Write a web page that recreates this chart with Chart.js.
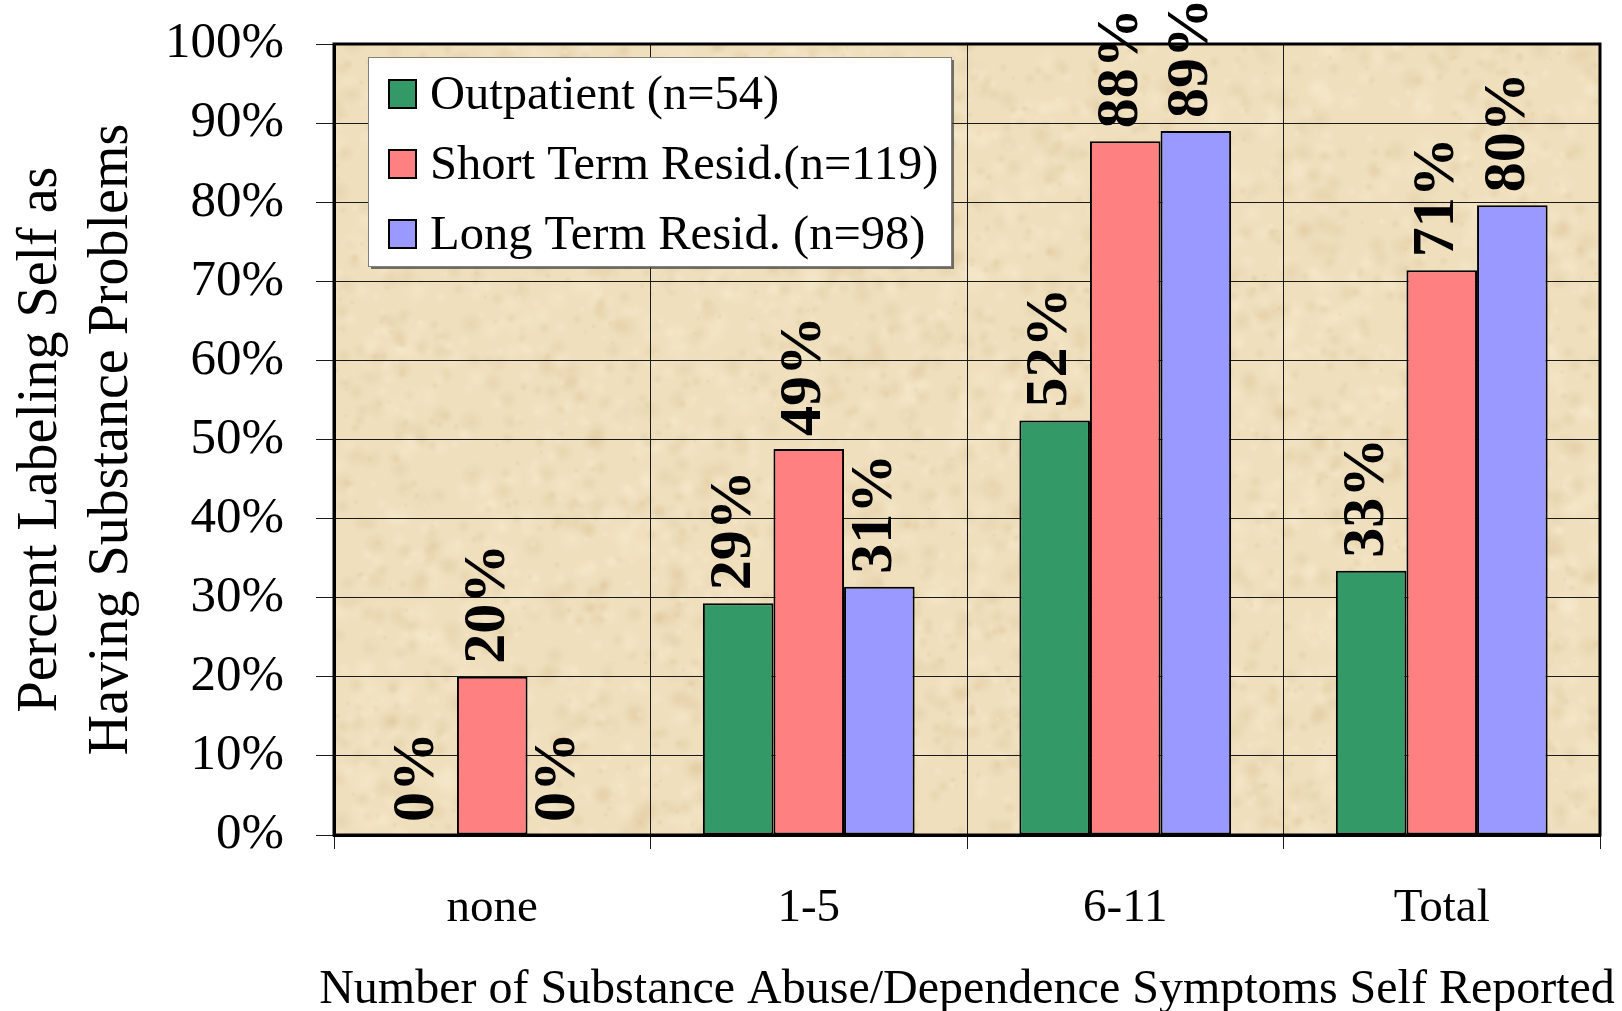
<!DOCTYPE html>
<html>
<head>
<meta charset="utf-8">
<script src="https://cdn.jsdelivr.net/npm/chart.js@4.4.1/dist/chart.umd.min.js"></script>
<style>
html, body { margin: 0; padding: 0; background: #fff; }
#wrap { width: 1622px; height: 1011px; }
</style>
</head>
<body>
<div id="wrap"><canvas id="grafico" width="1622" height="1011"></canvas></div>
<script>
const categorias = ['none', '1-5', '6-11', 'Total'];
const nomesSeries = ['Outpatient (n=54)', 'Short Term Resid.(n=119)', 'Long Term Resid. (n=98)'];
const outpatient = [0, 29.3, 52.4, 33.4];
const shortTerm = [20.0, 48.8, 87.7, 71.4];
const longTerm = [0, 31.4, 89.0, 79.6];
const cores = ['#339966', '#ff8080', '#9999ff'];
const tituloY = ['Percent Labeling Self as', 'Having Substance Problems'];
const tituloX = 'Number of Substance Abuse/Dependence Symptoms Self Reported';

const FONTE = "'Liberation Serif', 'Times New Roman', serif";
let textura = null;

// fundo tipo pergaminho (so decoracao)
function criarTextura(w, h) {
    const c = document.createElement('canvas');
    c.width = w; c.height = h;
    const g = c.getContext('2d');
    g.fillStyle = '#efdfbd';
    g.fillRect(0, 0, w, h);
    let s = 12345;
    const prox = () => (s = (s * 16807) % 2147483647) / 2147483647;
    for (let i = 0; i < 4500; i++) {
        const x = prox() * w, y = prox() * h, r = 2 + prox() * 12;
        const escuro = prox() < 0.5;
        const cor = escuro ? '205,172,120' : '250,240,214';
        const grad = g.createRadialGradient(x, y, 0, x, y, r);
        grad.addColorStop(0, `rgba(${cor},${escuro ? 0.18 : 0.3})`);
        grad.addColorStop(1, `rgba(${cor},0)`);
        g.fillStyle = grad;
        g.fillRect(x - r, y - r, r * 2, r * 2);
    }
    return c;
}

const pluginFundo = {
    id: 'fundo',
    beforeDraw(chart) {
        const a = chart.chartArea, ctx = chart.ctx;
        if (!textura) textura = criarTextura(Math.ceil(a.width), Math.ceil(a.height));
        ctx.drawImage(textura, a.left, a.top);
    }
};

const pluginRotulos = {
    id: 'rotulos',
    afterDatasetsDraw(chart) {
        const ctx = chart.ctx;
        ctx.save();
        ctx.font = `bold 60px ${FONTE}`;
        ctx.fillStyle = '#000';
        ctx.textAlign = 'left';
        ctx.textBaseline = 'middle';
        chart.data.datasets.forEach((ds, i) => {
            chart.getDatasetMeta(i).data.forEach((bar, j) => {
                ctx.save();
                ctx.translate(bar.x - 4, bar.y - 13);
                ctx.rotate(-Math.PI / 2);
                ctx.fillText(Math.round(ds.data[j]) + '%', 0, 0);
                ctx.restore();
            });
        });
        ctx.restore();
    }
};

const pluginMoldura = {
    id: 'moldura',
    afterDraw(chart) {
        const a = chart.chartArea, ctx = chart.ctx;
        ctx.save();
        ctx.strokeStyle = '#000';
        ctx.lineWidth = 3;
        ctx.strokeRect(a.left, a.top, a.width, a.height);

        // titulo do eixo x sem limite de largura (passa um pouco da area)
        ctx.font = `48px ${FONTE}`;
        ctx.fillStyle = '#000';
        ctx.textAlign = 'center';
        ctx.textBaseline = 'middle';
        ctx.fillText(tituloX, (a.left + a.right) / 2, chart.height - 21);

        // legenda
        const x = a.left + 34, y = a.top + 13, w = 583, h = 209;
        ctx.fillStyle = 'rgba(70,70,70,0.75)';
        ctx.fillRect(x + 3, y + 3, w, h);
        ctx.fillStyle = '#fff';
        ctx.fillRect(x, y, w, h);
        ctx.strokeStyle = '#808080';
        ctx.lineWidth = 1;
        ctx.strokeRect(x + 0.5, y + 0.5, w, h);
        ctx.font = `48.5px ${FONTE}`;
        ctx.textAlign = 'left';
        chart.data.datasets.forEach((ds, i) => {
            const cy = y + 37 + i * 70;
            ctx.fillStyle = ds.backgroundColor;
            ctx.fillRect(x + 21, cy - 14, 27, 28);
            ctx.strokeStyle = '#000';
            ctx.lineWidth = 2;
            ctx.strokeRect(x + 21, cy - 14, 27, 28);
            ctx.fillStyle = '#000';
            ctx.fillText(ds.label, x + 62, cy + 2);
        });
        ctx.restore();
    }
};

new Chart(document.getElementById('grafico'), {
    type: 'bar',
    data: {
        labels: categorias,
        datasets: [outpatient, shortTerm, longTerm].map((valores, i) => ({
            label: nomesSeries[i],
            data: valores,
            backgroundColor: cores[i],
            borderColor: '#000',
            borderWidth: 2,
            borderSkipped: false,
            categoryPercentage: 0.669,
            barPercentage: 1
        }))
    },
    options: {
        responsive: false,
        animation: false,
        devicePixelRatio: 1,
        layout: { padding: { top: 44, right: 22, bottom: 0, left: 0 } },
        plugins: { legend: { display: false }, tooltip: { enabled: false } },
        scales: {
            x: {
                grid: { offset: true, color: '#1a1a1a', lineWidth: 1, tickLength: 14 },
                border: { color: '#000', width: 3 },
                ticks: { color: '#000', font: { family: FONTE, size: 47 }, padding: 31, maxRotation: 0 },
                title: { display: false, text: tituloX },
                afterFit: s => { s.height = 176; s.paddingLeft = 0; s.paddingRight = 0; }
            },
            y: {
                min: 0, max: 100,
                grid: { color: '#1a1a1a', lineWidth: 1, tickLength: 18 },
                border: { color: '#000', width: 3 },
                ticks: { stepSize: 10, color: '#000', padding: 32, font: { family: FONTE, size: 51 }, callback: v => v + '%' },
                title: { display: true, text: tituloY, color: '#000', font: { family: FONTE, size: 56, lineHeight: 1.28 }, padding: { top: 5, bottom: 0 } },
                afterFit: s => { s.width = 334; s.paddingTop = 0; s.paddingBottom = 0; }
            }
        }
    },
    plugins: [pluginFundo, pluginRotulos, pluginMoldura]
});
</script>
</body>
</html>
